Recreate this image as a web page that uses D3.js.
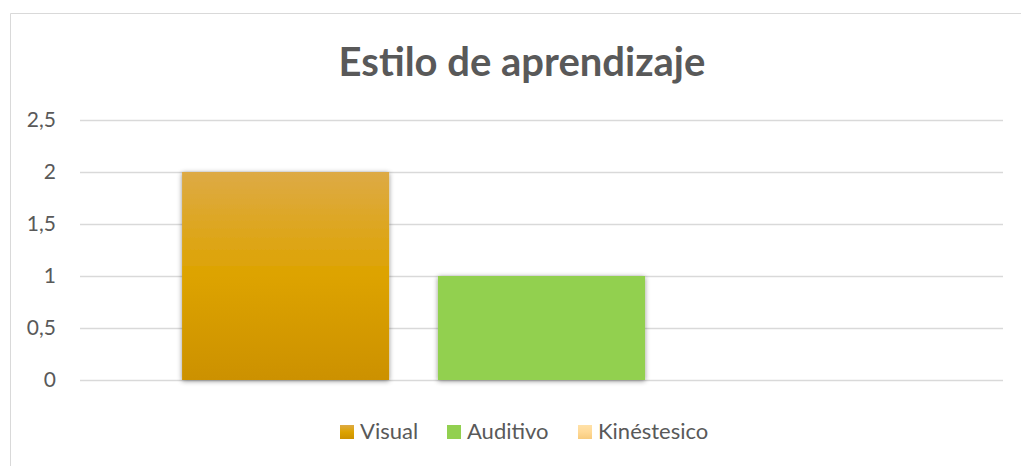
<!DOCTYPE html>
<html><head><meta charset="utf-8">
<script src="https://cdn.jsdelivr.net/npm/d3@7"></script>
<style>body{margin:0;background:#fff;}svg{display:block;font-family:Lato,"Open Sans",sans-serif;}</style>
</head><body>
<svg id="c" width="1021" height="466"></svg>
<script>
const categories = ["Estilo"];
const seriesNames = ["Visual", "Auditivo", "Kinéstesico"];
const seriesValues = [2, 1, 0];
const tickValues = [0, 0.5, 1, 1.5, 2, 2.5];
const tickLabels = ["0", "0,5", "1", "1,5", "2", "2,5"];
const title = "Estilo de aprendizaje";

(function () {
const svg = d3.select("#c");
const defs = svg.append("defs");
const grads = [
  ["g0", "#DDAA45", "#DDA300", "#CC9100"],
  ["g1", "#92D050", "#92D050", "#92D050"],
  ["g2", "#FFE1A8", "#FFD996", "#F7CB7E"]
];
grads.forEach(([id, a, b, c]) => {
  const g = defs.append("linearGradient").attr("id", id).attr("x1", 0).attr("y1", 0).attr("x2", 0).attr("y2", 1);
  g.append("stop").attr("offset", "0%").attr("stop-color", a);
  g.append("stop").attr("offset", "50%").attr("stop-color", b);
  g.append("stop").attr("offset", "100%").attr("stop-color", c);
});
const f = defs.append("filter").attr("id", "sh").attr("x", "-10%").attr("y", "-10%").attr("width", "120%").attr("height", "120%");
f.append("feDropShadow").attr("dx", 0).attr("dy", 1).attr("stdDeviation", 2.5).attr("flood-color", "#000").attr("flood-opacity", 0.45);

// frame
svg.append("path").attr("d", "M10.5,466 V13.5 H1021").attr("fill", "none").attr("stroke", "#d9d9d9").attr("stroke-width", 1);

const pLeft = 80, pRight = 1003, pTop = 120, pBottom = 380;
const y = d3.scaleLinear().domain([0, 2.5]).range([pBottom, pTop]);
const x0 = d3.scaleBand().domain(categories).range([pLeft, pRight]).paddingInner(0).paddingOuter(0.142);
const x1 = d3.scaleBand().domain(seriesNames).range([0, x0.bandwidth()]).paddingInner(0.191);

// gridlines
svg.append("g").selectAll("line").data(tickValues).join("line")
  .attr("x1", pLeft).attr("x2", pRight)
  .attr("y1", d => Math.round(y(d)) + 0.5).attr("y2", d => Math.round(y(d)) + 0.5)
  .attr("stroke", "#d9d9d9").attr("stroke-width", 1.3);

// y axis labels
const yAxis = d3.axisLeft(y).tickValues(tickValues).tickFormat((d, i) => tickLabels[i]).tickSize(0).tickPadding(0);
const ga = svg.append("g").attr("transform", "translate(56,0)").call(yAxis);
ga.select(".domain").remove();
ga.selectAll("text").attr("font-size", 21).attr("fill", "#595959").attr("font-family", "Lato,'Open Sans',sans-serif");

// bars
const g = svg.append("g");
categories.forEach(cat => {
  g.selectAll("rect.bar").data(seriesValues.map((v, i) => ({v, i, name: seriesNames[i]})).filter(d => d.v > 0)).join("rect")
    .attr("class", "bar")
    .attr("x", d => x0(cat) + x1(d.name))
    .attr("width", x1.bandwidth())
    .attr("y", d => y(d.v))
    .attr("height", d => y(0) - y(d.v))
    .attr("fill", d => `url(#g${d.i})`)
    .attr("filter", "url(#sh)");
});

// title
svg.append("text").attr("x", 522).attr("y", 76).attr("text-anchor", "middle")
  .attr("font-size", 40).attr("font-weight", "bold").attr("fill", "#595959").text(title);

// legend
const legX = [340, 447, 578];
const leg = svg.append("g");
seriesNames.forEach((n, i) => {
  leg.append("rect").attr("x", legX[i]).attr("y", 425).attr("width", 14).attr("height", 14).attr("fill", `url(#g${i})`);
  leg.append("text").attr("x", legX[i] + 20).attr("y", 439).attr("font-size", 22).attr("fill", "#595959").text(n);
});
})();
</script>
</body></html>
